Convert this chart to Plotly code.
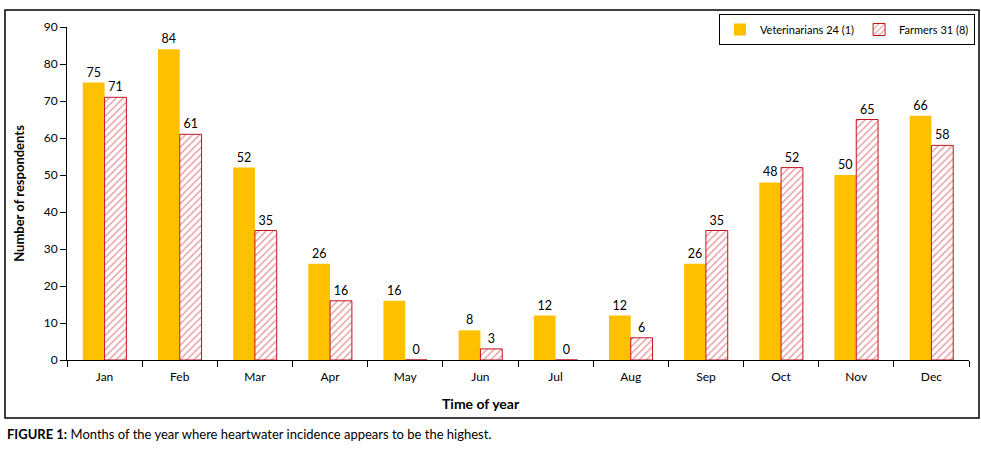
import plotly.graph_objects as go

months = ["Jan", "Feb", "Mar", "Apr", "May", "Jun", "Jul", "Aug", "Sep", "Oct", "Nov", "Dec"]
vets = [75, 84, 52, 26, 16, 8, 12, 12, 26, 48, 50, 66]
farmers = [71, 61, 35, 16, 0, 3, 0, 6, 35, 52, 65, 58]
vet_name = "Veterinarians 24 (1)"
farm_name = "Farmers 31 (8)"

FONT = "Lato, Carlito, sans-serif"

fig = go.Figure()
fig.add_trace(go.Bar(
    x=months, y=vets, name=vet_name,
    marker=dict(color="#FFC000", line=dict(width=0)),
    text=vets, textposition="outside", cliponaxis=False,
    textfont=dict(size=12.5, color="black", family=FONT),
))
fig.add_trace(go.Bar(
    x=months, y=farmers, name=farm_name,
    marker=dict(color="white", line=dict(color="#C0141E", width=1),
                pattern=dict(shape="/", fgcolor="#D0202A", bgcolor="white", size=5, solidity=0.25)),
    text=farmers, textposition="outside", cliponaxis=False,
    textfont=dict(size=12.5, color="black", family=FONT),
))

W, H = 981, 457
L, R, T, B = 67, 12, 27, 97
pw, ph = W - L - R, H - T - B

def px(x):
    return (x - L) / pw

def py(y):
    return (H - B - y) / ph

fig.update_layout(
    width=W, height=H,
    margin=dict(l=L, r=R, t=T, b=B, autoexpand=False),
    paper_bgcolor="white", plot_bgcolor="white",
    font=dict(family=FONT, size=12, color="black"),
    barmode="group", bargap=0.42, bargroupgap=0,
    showlegend=True,
    legend=dict(orientation="h", x=px(975), xanchor="right", y=py(14), yanchor="top",
                bordercolor="black", borderwidth=1, bgcolor="white",
                font=dict(size=11, family=FONT), traceorder="normal",
                itemwidth=30),
    xaxis=dict(showline=True, linecolor="black", linewidth=1, ticks="outside",
               tickson="boundaries", ticklen=6, tickcolor="black", showgrid=False,
               ticklabelstandoff=6,
               tickfont=dict(size=12, family=FONT)),
    yaxis=dict(range=[0, 90], dtick=10, showline=True, linecolor="black", linewidth=1,
               ticks="outside", ticklen=6, tickcolor="black", showgrid=False, zeroline=False,
               tickfont=dict(size=12, family=FONT),
               title=dict(text="<b>Number of respondents</b>", font=dict(size=13, family=FONT), standoff=16)),
    shapes=[dict(type="rect", xref="paper", yref="paper",
                 x0=px(5), x1=px(979), y0=py(418), y1=py(10),
                 line=dict(color="black", width=1.5), fillcolor="rgba(0,0,0,0)", layer="below")],
    annotations=[
        dict(text="<b>Time of year</b>", xref="paper", yref="paper", x=px(481), y=py(404),
             xanchor="center", yanchor="middle", showarrow=False,
             font=dict(size=14, family=FONT, color="black")),
        dict(text="<b>FIGURE 1:</b> Months of the year where heartwater incidence appears to be the highest.",
             xref="paper", yref="paper", x=px(5), y=py(434), xanchor="left", yanchor="middle",
             showarrow=False, font=dict(size=13, family=FONT, color="black")),
    ],
)

fig.write_html("out.html", config={"displayModeBar": False},
               post_script="document.body.style.margin='0';document.body.style.overflow='hidden';")
